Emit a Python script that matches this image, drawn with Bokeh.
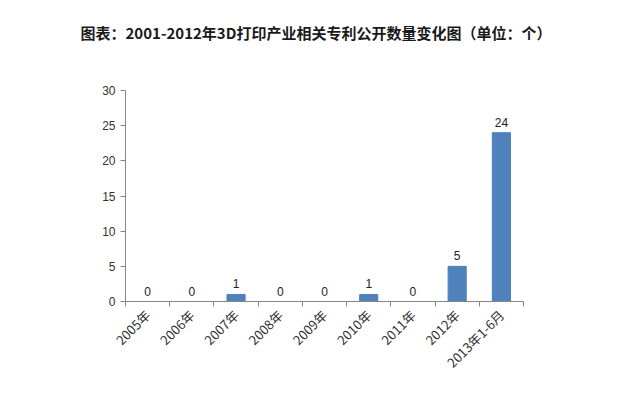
from bokeh.plotting import figure
from bokeh.models import Range1d, FixedTicker, ColumnDataSource, LabelSet, Title
from bokeh.core.properties import value
from bokeh.embed import file_html
from bokeh.resources import INLINE
import math

categories = ["2005年", "2006年", "2007年", "2008年", "2009年", "2010年", "2011年", "2012年", "2013年1-6月"]
counts = [0, 0, 1, 0, 0, 1, 0, 5, 24]
y_ticks = [0, 5, 10, 15, 20, 25, 30]
title_text = "图表：2001-2012年3D打印产业相关专利公开数量变化图（单位：个）"

xs = [i + 0.5 for i in range(len(categories))]
src = ColumnDataSource(dict(x=xs, top=counts, lab=[str(c) for c in counts]))

p = figure(width=626, height=381, output_backend="svg", toolbar_location=None,
           x_range=Range1d(0, len(categories)), y_range=Range1d(0, 30),
           min_border_left=125, min_border_right=103, min_border_bottom=74, min_border_top=90)
p.outline_line_color = None
p.xgrid.visible = False
p.ygrid.visible = False

p.add_layout(Title(text=" ", text_font_size="28px"), "above")
p.add_layout(Title(text=title_text, text_font="Noto Sans CJK SC", text_font_size="15px",
                   text_font_style="bold", text_color="#1a1a1a", align="left",
                   offset=-45), "above")

p.vbar(x="x", top="top", width=0.41, bottom=0, source=src, color="#4F81BD")
p.add_layout(LabelSet(x="x", y="top", text="lab", source=src, text_align="center",
                      text_baseline="bottom", y_offset=6, text_font=value("Liberation Sans"),
                      text_font_size=value("12px"), text_color="#222222"))

ax = p.xaxis[0]
ax.ticker = FixedTicker(ticks=xs, minor_ticks=list(range(len(categories) + 1)))
ax.major_label_overrides = {x: c for x, c in zip(xs, categories)}
ax.major_label_orientation = math.pi / 4
ax.major_tick_out = 0
ax.major_tick_in = 0
ax.minor_tick_out = 5
ax.minor_tick_in = 0
ax.axis_line_color = "#868686"
ax.minor_tick_line_color = "#868686"
ax.major_label_text_font = "Noto Sans CJK SC"
ax.major_label_text_font_size = "13px"
ax.major_label_text_color = "#333333"
ax.major_label_standoff = 6

ay = p.yaxis[0]
ay.ticker = FixedTicker(ticks=y_ticks)
ay.major_tick_out = 5
ay.major_tick_in = 0
ay.minor_tick_out = 0
ay.minor_tick_in = 0
ay.axis_line_color = "#868686"
ay.major_tick_line_color = "#868686"
ay.major_label_text_font = "Liberation Sans"
ay.major_label_text_font_size = "12px"
ay.major_label_text_color = "#333333"
ay.major_label_standoff = 5

open("out.html", "w").write(file_html(p, INLINE))
